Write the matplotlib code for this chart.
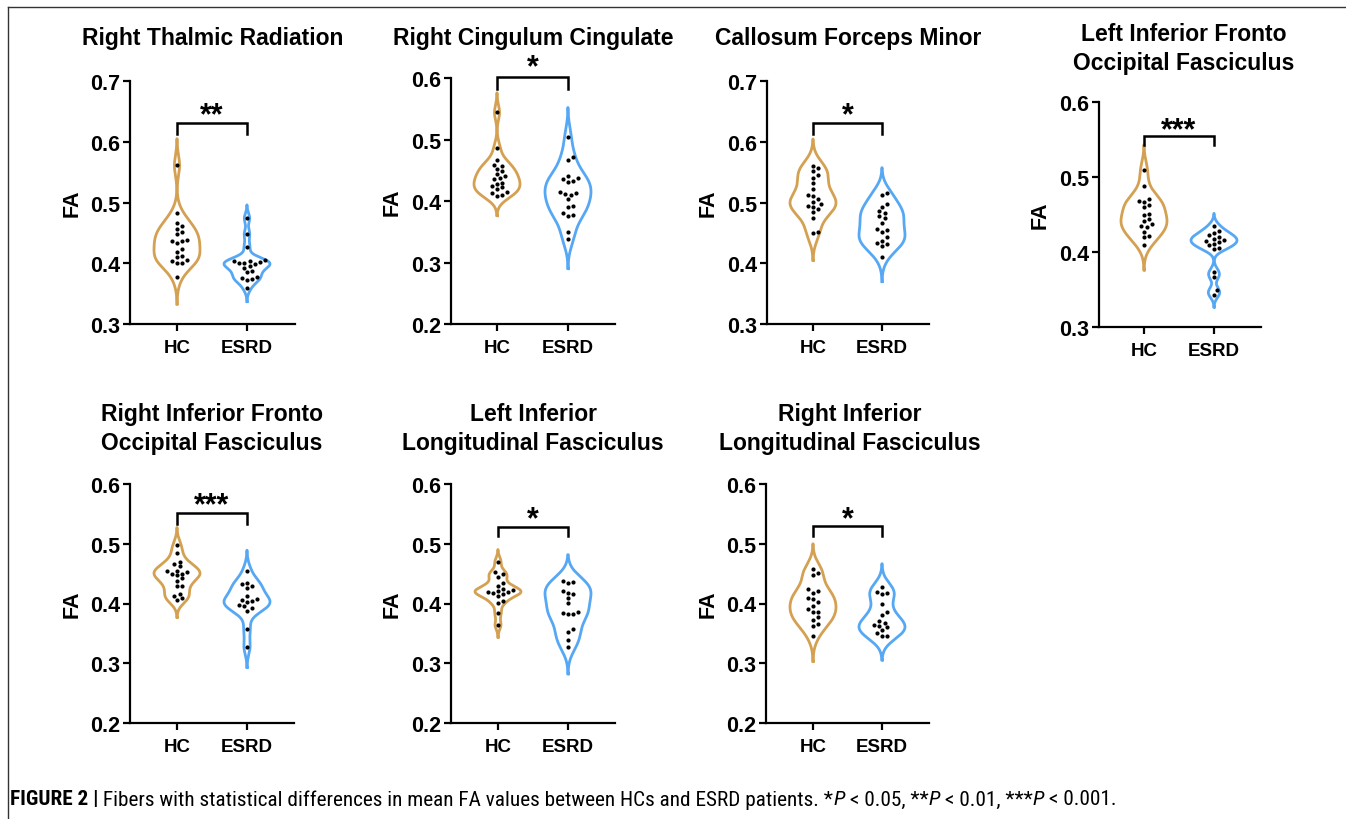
import numpy as np
import matplotlib
matplotlib.use("Agg")
import matplotlib.pyplot as plt
from matplotlib.lines import Line2D
from matplotlib import font_manager

plt.rcParams['font.family'] = ['Liberation Sans', 'DejaVu Sans']

# ---------------- data ----------------
groups = ["HC", "ESRD"]

titles = [
    "Right Thalmic Radiation",
    "Right Cingulum Cingulate",
    "Callosum Forceps Minor",
    "Left Inferior Fronto\nOccipital Fasciculus",
    "Right Inferior Fronto\nOccipital Fasciculus",
    "Left Inferior\nLongitudinal Fasciculus",
    "Right Inferior\nLongitudinal Fasciculus",
]
significance = ["**", "*", "*", "***", "***", "*", "*"]
y_ranges = [(0.3, 0.7), (0.2, 0.6), (0.3, 0.7), (0.3, 0.6), (0.2, 0.6), (0.2, 0.6), (0.2, 0.6)]
y_ticks = [
    [0.3, 0.4, 0.5, 0.6, 0.7],
    [0.2, 0.3, 0.4, 0.5, 0.6],
    [0.3, 0.4, 0.5, 0.6, 0.7],
    [0.3, 0.4, 0.5, 0.6],
    [0.2, 0.3, 0.4, 0.5, 0.6],
    [0.2, 0.3, 0.4, 0.5, 0.6],
    [0.2, 0.3, 0.4, 0.5, 0.6],
]
# bracket level, drop level, star level (FA units)
brackets = [(0.631, 0.613, 0.643), (0.602, 0.582, 0.618), (0.631, 0.613, 0.643),
            (0.555, 0.543, 0.563), (0.552, 0.533, 0.564), (0.528, 0.513, 0.541),
            (0.530, 0.513, 0.541)]

hc_values = [
    [0.561, 0.482, 0.466, 0.462, 0.457, 0.452, 0.448, 0.438, 0.437, 0.436,
     0.434, 0.424, 0.418, 0.412, 0.410, 0.406, 0.403, 0.401, 0.400, 0.377],
    [0.544, 0.486, 0.466, 0.459, 0.457, 0.452, 0.448, 0.444, 0.441, 0.437,
     0.435, 0.430, 0.428, 0.425, 0.422, 0.419, 0.415, 0.413, 0.410, 0.408],
    [0.560, 0.557, 0.552, 0.546, 0.541, 0.532, 0.522, 0.512, 0.510, 0.505,
     0.501, 0.497, 0.495, 0.492, 0.490, 0.484, 0.475, 0.452, 0.449],
    [0.510, 0.488, 0.471, 0.468, 0.467, 0.463, 0.460, 0.451, 0.449, 0.444,
     0.442, 0.438, 0.435, 0.433, 0.427, 0.422, 0.420, 0.409],
    [0.498, 0.485, 0.470, 0.466, 0.462, 0.455, 0.454, 0.452, 0.450, 0.449,
     0.447, 0.442, 0.438, 0.430, 0.429, 0.416, 0.413, 0.409, 0.406],
    [0.470, 0.452, 0.449, 0.445, 0.435, 0.430, 0.425, 0.422, 0.421, 0.420,
     0.419, 0.418, 0.416, 0.413, 0.405, 0.401, 0.384, 0.364],
    [0.458, 0.451, 0.447, 0.424, 0.421, 0.418, 0.409, 0.407, 0.402, 0.396,
     0.391, 0.386, 0.385, 0.377, 0.373, 0.366, 0.363, 0.345],
]
esrd_values = [
    [0.474, 0.448, 0.427, 0.405, 0.404, 0.403, 0.402, 0.401, 0.400, 0.398,
     0.395, 0.392, 0.388, 0.385, 0.378, 0.375, 0.374, 0.372, 0.359],
    [0.504, 0.471, 0.466, 0.441, 0.438, 0.435, 0.432, 0.431, 0.415, 0.413,
     0.411, 0.410, 0.403, 0.392, 0.390, 0.380, 0.378, 0.375, 0.349, 0.338],
    [0.516, 0.512, 0.497, 0.493, 0.486, 0.482, 0.477, 0.474, 0.467, 0.456,
     0.454, 0.451, 0.443, 0.437, 0.434, 0.431, 0.428, 0.411],
    [0.435, 0.428, 0.425, 0.423, 0.420, 0.418, 0.416, 0.415, 0.413, 0.411,
     0.409, 0.405, 0.404, 0.374, 0.367, 0.349, 0.343],
    [0.455, 0.434, 0.432, 0.430, 0.426, 0.413, 0.408, 0.406, 0.404, 0.402,
     0.398, 0.395, 0.392, 0.388, 0.357, 0.327],
    [0.437, 0.436, 0.434, 0.421, 0.418, 0.416, 0.410, 0.401, 0.385, 0.384,
     0.383, 0.382, 0.357, 0.353, 0.339, 0.327],
    [0.427, 0.420, 0.418, 0.416, 0.399, 0.385, 0.381, 0.370, 0.367, 0.364,
     0.362, 0.360, 0.355, 0.350, 0.346, 0.345],
]

# ---------------- layout (pixels) ----------------
W, H = 1346, 820
# left, right, hc_x, esrd_x, top(ymax), bottom(ymin)
geom = [
    (130, 295, 177, 247, 82, 325),
    (451, 615, 497, 568, 79, 325),
    (767, 929, 813, 882, 82, 325),
    (1099, 1261, 1144, 1214, 103, 328),
    (130, 294, 177, 247, 485, 724),
    (451, 615, 498, 568, 485, 724),
    (766, 929, 813, 882, 485, 724),
]
title_pos = [(213, 38), (533, 38), (848, 38), (1184, 49), (212, 429), (533, 429), (850, 429)]
fa_x = [72, 392, 708, 1040, 72, 392, 708]

ORANGE = "#D4A052"
BLUE = "#56A8F4"
colors = [ORANGE, BLUE]

fig = plt.figure(figsize=(W / 100, H / 100), dpi=100)
fig.patch.set_facecolor("white")

# frame lines (top & left)
fig.add_artist(Line2D([8 / W, 8 / W], [0, 1 - 8 / H], transform=fig.transFigure,
                      color="#333333", lw=1.0))
fig.add_artist(Line2D([8 / W, 1], [1 - 8 / H, 1 - 8 / H], transform=fig.transFigure,
                      color="#333333", lw=1.0))


def kde(vals, grid, h):
    v = np.asarray(vals)[:, None]
    return np.exp(-0.5 * ((grid[None, :] - v) / h) ** 2).sum(axis=0)


def swarm_offsets(vals, px_per_y, diam):
    order = np.argsort(vals)
    placed = []
    offs = np.zeros(len(vals))
    for i in order:
        ypx = vals[i] * px_per_y
        best = None
        for k in range(0, 30):
            for s in ([0] if k == 0 else [1, -1]):
                cand = s * k * diam * 0.55
                ok = True
                for (px, py) in placed:
                    if (px - cand) ** 2 + (py - ypx) ** 2 < diam ** 2:
                        ok = False
                        break
                if ok:
                    best = cand
                    break
            if best is not None:
                break
        offs[i] = best
        placed.append((best, ypx))
    return offs


for p in range(7):
    l, r, xh, xe, top, bot = geom[p]
    ylo, yhi = y_ranges[p]
    ax = fig.add_axes([l / W, 1 - bot / H, (r - l) / W, (bot - top) / H])
    unit = xe - xh
    x0 = -(xh - l) / unit
    x1 = 1 + (r - xe) / unit
    ax.set_xlim(x0, x1)
    ax.set_ylim(ylo, yhi)
    px_per_y = (bot - top) / (yhi - ylo)

    for g, vals in enumerate([hc_values[p], esrd_values[p]]):
        vals = np.asarray(vals)
        n = len(vals)
        sd = vals.std(ddof=1)
        iqr = np.subtract(*np.percentile(vals, [75, 25]))
        h = 0.9 * min(sd, iqr / 1.34) * n ** (-0.2)
        grid = np.linspace(vals.min() - 2.7 * h, vals.max() + 2.7 * h, 400)
        d = kde(vals, grid, h)
        half = d / d.max() * (23.0 / unit)
        xs = np.concatenate([g + half, (g - half)[::-1], [g + half[0]]])
        ys = np.concatenate([grid, grid[::-1], [grid[0]]])
        ax.plot(xs, ys, color=colors[g], lw=2.0, solid_joinstyle="round", zorder=2)
        offs = swarm_offsets(vals, px_per_y, 4.6) / unit
        ax.plot(g + offs, vals, "o", color="black", ms=3.0, mew=0, zorder=3)

    # significance bracket
    bl, dl, sl = brackets[p]
    ax.plot([0, 0, 1, 1], [dl, bl, bl, dl], color="black", lw=1.8, clip_on=False,
            solid_joinstyle="miter")
    ax.text(0.5, sl, significance[p], ha="center", va="center", fontsize=22,
            fontweight="bold", clip_on=False)

    for s in ["top", "right"]:
        ax.spines[s].set_visible(False)
    for s in ["left", "bottom"]:
        ax.spines[s].set_linewidth(1.6)
    ax.set_yticks(y_ticks[p])
    ax.set_yticklabels([f"{t:.1f}" for t in y_ticks[p]])
    ax.set_xticks([0, 1])
    ax.set_xticklabels(groups)
    ax.tick_params(axis="both", width=1.6, length=5, direction="out")
    ax.tick_params(axis="y", labelsize=15.5, pad=2)
    ax.tick_params(axis="x", labelsize=13.5, pad=6)
    for lab in ax.get_yticklabels() + ax.get_xticklabels():
        lab.set_fontweight("bold")
    ax.patch.set_visible(False)

    fig.text(fa_x[p] / W, 1 - (top + bot) / 2 / H, "FA", rotation=90, ha="center",
             va="center", fontsize=15.5, fontweight="bold")
    tx, ty = title_pos[p]
    fig.text(tx / W, 1 - ty / H, titles[p], ha="center", va="center", fontsize=16.5,
             fontweight="bold", linespacing=1.32)

# caption
available = {f.name for f in font_manager.fontManager.ttflist}
cap_family = None
for cand in ["Liberation Sans Narrow", "DejaVu Sans Condensed", "Roboto Condensed",
             "Open Sans Condensed"]:
    if cand in available:
        cap_family = cand
        break
cap_size = 15.3 if cap_family else 13.5
if cap_family is None:
    cap_family = "Liberation Sans"

renderer = fig.canvas.get_renderer()
segments = [
    ("FIGURE 2 |", "bold", "normal"),
    (" Fibers with statistical differences in mean FA values between HCs and ESRD patients. *", "normal", "normal"),
    ("P", "normal", "italic"),
    (" < 0.05, **", "normal", "normal"),
    ("P", "normal", "italic"),
    (" < 0.01, ***", "normal", "normal"),
    ("P", "normal", "italic"),
    (" < 0.001.", "normal", "normal"),
]
xcur = 10 / W
for txt, wt, st in segments:
    t = fig.text(xcur, 1 - 800 / H, txt, ha="left", va="center", fontsize=cap_size,
                 fontweight=wt, fontstyle=st, family=[cap_family, "DejaVu Sans"])
    bb = t.get_window_extent(renderer=renderer)
    xcur = bb.x1 / W

fig.savefig("out.png", dpi=100, facecolor="white")
